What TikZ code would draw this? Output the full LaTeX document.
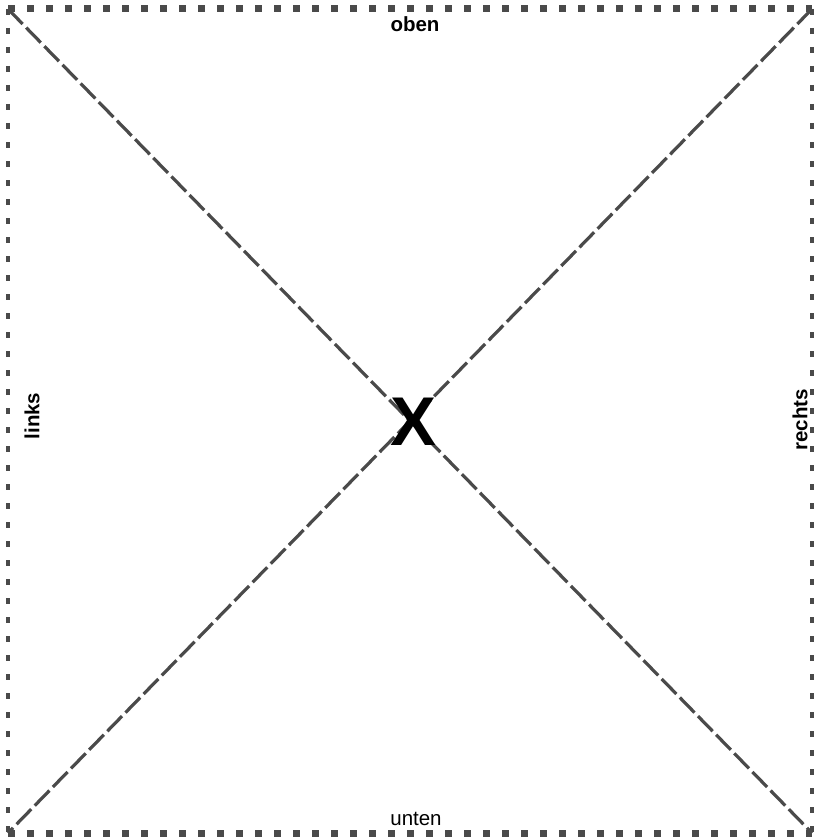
\documentclass[tikz,border=0pt]{standalone}
\usepackage{fontspec}
\setmainfont{Liberation Sans}
\definecolor{rand}{HTML}{4A4A4A}
\tikzset{
  randh/.style={draw=rand,line width=7pt,dash pattern=on 7pt off 12pt},
  randv/.style={draw=rand,line width=3.5pt,dash pattern=on 6pt off 13pt},
  diag/.style={draw=rand,line width=3.2pt,dash pattern=on 21pt off 5pt},
  lab/.style={inner sep=0pt,font=\fontsize{20.5}{24}\selectfont},
  blab/.style={lab,font=\bfseries\fontsize{20.5}{24}\selectfont}
}
\begin{document}
\begin{tikzpicture}[x=1pt,y=-1pt]
\useasboundingbox (0,0) rectangle (814,840);
% Ecken
\coordinate (ol) at (8,9);
\coordinate (or) at (812,9);
\coordinate (ul) at (8,833);
\coordinate (ur) at (812,833);
% Rand
\draw[randh] (ol)--(or);
\draw[randh] (ul)--(ur);
\draw[randv] (ol)--(ul);
\draw[randv] (or)--(ur);
% Diagonalen
\draw[diag] (ol)--(ur);
\draw[diag] (or)--(ul);
% Beschriftung
\node[blab] (oben) at (415,24) {oben};
\node[lab] (unten) at (416,819) {unten};
\node[blab,rotate=90] (links) at (32,416) {links};
\node[blab,rotate=90] (rechts) at (800,420) {rechts};
\node[inner sep=0pt,font=\bfseries\fontsize{69}{72}\selectfont] (mitte) at (414,422) {X};
\end{tikzpicture}
\end{document}
